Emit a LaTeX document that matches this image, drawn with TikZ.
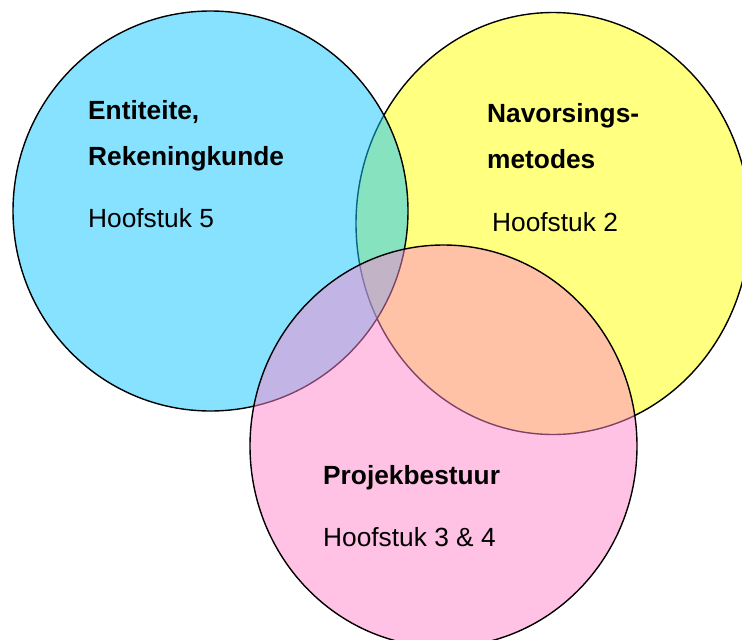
\documentclass[tikz,border=0pt]{standalone}
\usepackage{fontspec}
\setmainfont{Liberation Sans}
\definecolor{cyanset}{RGB}{15,199,255}
\definecolor{yellowset}{RGB}{255,255,128}
\definecolor{pinkset}{RGB}{255,135,205}
\tikzset{
  setline/.style={draw=black, line width=1.4pt},
  lbl/.style={anchor=base west, inner sep=0pt, font=\fontsize{26.3}{30}\selectfont},
  title/.style={lbl, font=\fontsize{26.3}{30}\selectfont\bfseries},
}
\begin{document}
\begin{tikzpicture}[x=1pt,y=-1pt]
\useasboundingbox (0,0) rectangle (742,640);
\fill[white] (0,0) rectangle (742,640);
\begin{scope}
\clip (0,0) rectangle (742,640);
\fill[yellowset] (553,223.5) ellipse [x radius=197pt, y radius=211pt];
\draw[setline] (553,223.5) ellipse [x radius=197pt, y radius=211pt];
\fill[cyanset, fill opacity=0.5] (210.5,211) ellipse [x radius=197.5pt, y radius=200pt];
\draw[setline] (210.5,211) ellipse [x radius=197.5pt, y radius=200pt];
\fill[pinkset, fill opacity=0.5] (443.5,446) ellipse [x radius=193.5pt, y radius=201pt];
\draw[setline] (443.5,446) ellipse [x radius=193.5pt, y radius=201pt];
\end{scope}
\node[title] (ent) at (88,119) {Entiteite,};
\node[title] (rek) at (88,165) {Rekeningkunde};
\node[lbl] (h5) at (88,227) {Hoofstuk 5};
\node[title] (nav) at (487,122.5) {Navorsings-};
\node[title] (met) at (487,168) {metodes};
\node[lbl] (h2) at (492,231) {Hoofstuk 2};
\node[title] (pro) at (323,484.5) {Projekbestuur};
\node[lbl] (h34) at (323,546) {Hoofstuk 3 \& 4};
\end{tikzpicture}
\end{document}
